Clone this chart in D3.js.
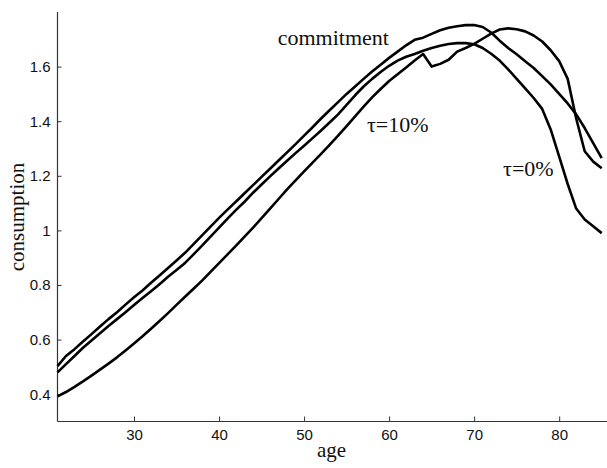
<!DOCTYPE html>
<html>
<head>
<meta charset="utf-8">
<script src="https://cdn.jsdelivr.net/npm/d3@7"></script>
<style>
  html, body { margin: 0; padding: 0; background: #fff; }
  svg { display: block; }
</style>
</head>
<body>
<svg id="chart" width="607" height="468"></svg>
<script>
// ---- data, one value per age 21..85 ----
const ages = d3.range(21, 86);

const commitment = [
  0.503, 0.540, 0.565, 0.593, 0.620, 0.648, 0.675, 0.700, 0.728, 0.755,
  0.780, 0.808, 0.835, 0.862, 0.890, 0.918, 0.950, 0.982, 1.014, 1.046,
  1.076, 1.106, 1.136, 1.166, 1.196, 1.226, 1.256, 1.286, 1.316, 1.347,
  1.378, 1.410, 1.440, 1.470, 1.500, 1.527, 1.555, 1.582, 1.607, 1.632,
  1.655, 1.678, 1.698, 1.706, 1.720, 1.733, 1.742, 1.748, 1.752, 1.752,
  1.745, 1.725, 1.695, 1.668, 1.645, 1.620, 1.595, 1.565, 1.535, 1.500,
  1.465, 1.425, 1.375, 1.320, 1.265
];

const tau10 = [
  0.392, 0.408, 0.427, 0.447, 0.468, 0.490, 0.512, 0.535, 0.560, 0.586,
  0.612, 0.640, 0.668, 0.697, 0.727, 0.757, 0.786, 0.816, 0.848, 0.880,
  0.912, 0.944, 0.977, 1.010, 1.045, 1.080, 1.115, 1.150, 1.183, 1.216,
  1.248, 1.280, 1.313, 1.347, 1.382, 1.418, 1.453, 1.487, 1.518, 1.547,
  1.572, 1.597, 1.622, 1.646, 1.600, 1.610, 1.625, 1.655, 1.668, 1.683,
  1.702, 1.721, 1.736, 1.740, 1.737, 1.729, 1.714, 1.692, 1.660, 1.620,
  1.555, 1.410, 1.290, 1.252, 1.228
];

const tau0 = [
  0.480, 0.510, 0.540, 0.570, 0.597, 0.623, 0.650, 0.675, 0.700, 0.727,
  0.752, 0.777, 0.803, 0.830, 0.855, 0.881, 0.912, 0.944, 0.977, 1.010,
  1.043, 1.075, 1.105, 1.138, 1.168, 1.198, 1.227, 1.255, 1.283, 1.310,
  1.338, 1.366, 1.395, 1.425, 1.460, 1.495, 1.527, 1.555, 1.580, 1.603,
  1.622, 1.636, 1.646, 1.658, 1.668, 1.676, 1.683, 1.686, 1.686, 1.682,
  1.668, 1.647, 1.622, 1.590, 1.555, 1.520, 1.485, 1.445, 1.370, 1.270,
  1.170, 1.080, 1.040, 1.015, 0.990
];

const xTicks = [30, 40, 50, 60, 70, 80];
const yTicks = [0.4, 0.6, 0.8, 1.0, 1.2, 1.4, 1.6];
const yTickLabels = ["0.4", "0.6", "0.8", "1", "1.2", "1.4", "1.6"];

const seriesNames = ["commitment", "τ=10%", "τ=0%"];
const seriesValues = [commitment, tau10, tau0];

// ---- layout ----
const svg = d3.select("#chart");
const mLeft = 57.5, mRight = 601.7, mTop = 12, mBottom = 421.5;

const x = d3.scaleLinear().domain([21, 85]).range([mLeft, mRight]);
const y = d3.scaleLinear().domain([0.3, 1.8]).range([mBottom, mTop]);

// x axis
const xAxis = svg.append("g")
  .attr("transform", `translate(0,${mBottom})`)
  .call(d3.axisBottom(x).tickValues(xTicks).tickFormat(d3.format("d"))
        .tickSize(-5).tickPadding(8).tickSizeOuter(0));
xAxis.select(".domain").remove();
xAxis.append("line").attr("x1", mLeft).attr("x2", 607).attr("y1", 0).attr("y2", 0)
  .attr("stroke", "#333").attr("stroke-width", 1.2);
xAxis.selectAll(".tick line").attr("stroke", "#333");
xAxis.selectAll(".tick text")
  .attr("font-family", "'Liberation Sans', Arial, sans-serif")
  .attr("font-size", 15).attr("fill", "#111");

// y axis
const yAxis = svg.append("g")
  .attr("transform", `translate(${mLeft},0)`)
  .call(d3.axisLeft(y).tickValues(yTicks).tickFormat((d, i) => yTickLabels[i])
        .tickSize(-4).tickPadding(7).tickSizeOuter(0));
yAxis.select(".domain").remove();
yAxis.append("line").attr("x1", 0).attr("x2", 0).attr("y1", mTop).attr("y2", mBottom)
  .attr("stroke", "#333").attr("stroke-width", 1.2);
yAxis.selectAll(".tick line").attr("stroke", "#333");
yAxis.selectAll(".tick text")
  .attr("font-family", "'Liberation Sans', Arial, sans-serif")
  .attr("font-size", 15).attr("fill", "#111");

// lines
const line = d3.line().x((d, i) => x(ages[i])).y(d => y(d));
svg.append("g").selectAll("path")
  .data(seriesValues)
  .join("path")
  .attr("d", d => line(d))
  .attr("fill", "none")
  .attr("stroke", "#000")
  .attr("stroke-width", 2.6)
  .attr("stroke-linejoin", "round");

// annotations
const serif = "'Liberation Serif', 'Times New Roman', serif";
const labels = [
  { t: seriesNames[0], xv: 46.9, yv: 1.68 },
  { t: seriesNames[1], xv: 57.4, yv: 1.36 },
  { t: seriesNames[2], xv: 73.4, yv: 1.20 }
];
svg.append("g").selectAll("text")
  .data(labels)
  .join("text")
  .attr("x", d => x(d.xv))
  .attr("y", d => y(d.yv))
  .attr("font-family", serif)
  .attr("font-size", 22)
  .attr("fill", "#111")
  .text(d => d.t);

// axis titles
svg.append("text")
  .attr("x", (mLeft + mRight) / 2 + 2)
  .attr("y", 457)
  .attr("text-anchor", "middle")
  .attr("font-family", serif)
  .attr("font-size", 21)
  .attr("fill", "#111")
  .text("age");

svg.append("text")
  .attr("transform", "translate(24,217) rotate(-90)")
  .attr("text-anchor", "middle")
  .attr("font-family", serif)
  .attr("font-size", 21)
  .attr("fill", "#111")
  .text("consumption");
</script>
</body>
</html>
